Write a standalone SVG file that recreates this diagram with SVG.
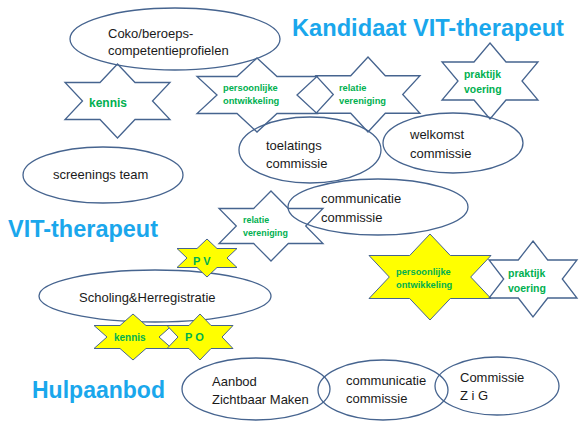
<svg xmlns="http://www.w3.org/2000/svg" width="579" height="421" viewBox="0 0 579 421">
<style>
.bg{fill:#ffffff}
.ell{fill:none;stroke:#46648F;stroke-width:1.3}
.star{fill:none;stroke:#46648F;stroke-width:1.3;stroke-linejoin:miter}
.ystar{fill:#FFFF00;stroke:#46648F;stroke-width:1;stroke-linejoin:miter}
.t{font-family:"Liberation Sans",Arial,sans-serif;font-size:13px;fill:#1a1a1a}
.g{font-family:"Liberation Sans",Arial,sans-serif;font-weight:bold;font-size:9.3px;fill:#00B050}
.h{font-family:"Liberation Sans",Arial,sans-serif;font-weight:bold;font-size:23px;fill:#1AA7EC}
</style>
<rect class="bg" x="0" y="0" width="579" height="421"/>

<g id="title-kandidaat"><text class="h" x="292" y="36" textLength="272" lengthAdjust="spacingAndGlyphs">Kandidaat VIT-therapeut</text></g>
<g id="title-vit"><text class="h" x="8" y="237" textLength="150" lengthAdjust="spacingAndGlyphs">VIT-therapeut</text></g>
<g id="title-hulpaanbod"><text class="h" x="32" y="398" textLength="133" lengthAdjust="spacingAndGlyphs">Hulpaanbod</text></g>

<g id="coko">
<ellipse class="ell" cx="175" cy="39" rx="105" ry="31"/>
<text class="t" x="108" y="38">Coko/beroeps-</text>
<text class="t" x="108" y="55">competentieprofielen</text>
</g>

<g id="star-kennis">
<polygon class="star" points="117.5,64 135,82.5 170,82.5 152.5,101 170,119.5 135,119.5 117.5,138 100,119.5 65,119.5 82.5,101 65,82.5 100,82.5"/>
<text class="g" x="89" y="107" style="font-size:12px">kennis</text>
</g>

<g id="screenings">
<ellipse class="ell" cx="103" cy="175" rx="80" ry="28"/>
<text class="t" x="53" y="179">screenings team</text>
</g>

<g id="star-persoonlijke-top">
<polygon class="star" points="257,58 277,76.5 317,76.5 297,95 317,113.5 277,113.5 257,132 237,113.5 197,113.5 217,95 197,76.5 237,76.5"/>
<text class="g" x="223" y="91">persoonlijke</text>
<text class="g" x="223" y="104">ontwikkeling</text>
</g>

<g id="star-relatie-top">
<polygon class="star" points="368,57 385.3,75.75 420,75.75 402.7,94.5 420,113.25 385.3,113.25 368,132 350.7,113.25 316,113.25 333.3,94.5 316,75.75 350.7,75.75"/>
<text class="g" x="339" y="91">relatie</text>
<text class="g" x="339" y="104">vereniging</text>
</g>

<g id="star-praktijk-top">
<polygon class="star" points="490,43 506,62 538,62 522,81 538,100 506,100 490,119 474,100 442,100 458,81 442,62 474,62"/>
<text class="g" x="464" y="78" style="font-size:10.4px">praktijk</text>
<text class="g" x="464" y="93" style="font-size:10.4px">voering</text>
</g>

<g id="toelatings">
<ellipse class="ell" cx="310" cy="150" rx="71" ry="33"/>
<text class="t" x="266" y="150">toelatings</text>
<text class="t" x="266" y="168">commissie</text>
</g>

<g id="welkomst">
<ellipse class="ell" cx="453" cy="143" rx="70" ry="30"/>
<text class="t" x="410" y="139">welkomst</text>
<text class="t" x="410" y="158">commissie</text>
</g>

<g id="communicatie-mid">
<ellipse class="ell" cx="378" cy="207" rx="90" ry="28"/>
<text class="t" x="321" y="203">communicatie</text>
<text class="t" x="321" y="222">commissie</text>
</g>

<g id="star-relatie-mid">
<polygon class="star" points="271,191 288.3,208.5 323,208.5 305.7,226 323,243.5 288.3,243.5 271,261 253.7,243.5 219,243.5 236.3,226 219,208.5 253.7,208.5"/>
<text class="g" x="243" y="223" style="font-size:8.9px">relatie</text>
<text class="g" x="243" y="236" style="font-size:8.9px">vereniging</text>
</g>

<g id="scholing">
<ellipse class="ell" cx="155" cy="296" rx="116" ry="26"/>
<text class="t" x="79" y="302">Scholing&amp;Herregistratie</text>
</g>

<g id="star-pv">
<polygon class="ystar" points="207,239 217,248.5 237,248.5 227,258 237,267.5 217,267.5 207,277 197,267.5 177,267.5 187,258 177,248.5 197,248.5"/>
<text class="g" x="193" y="265" style="font-size:11px">P V</text>
</g>

<g id="star-kennis-y">
<polygon class="ystar" points="133,314 146,325.5 172,325.5 159,337 172,348.5 146,348.5 133,360 120,348.5 94,348.5 107,337 94,325.5 120,325.5"/>
<text class="g" x="114" y="341" style="font-size:10px">kennis</text>
</g>

<g id="star-po">
<polygon class="ystar" points="200,314 211,325.5 233,325.5 222,337 233,348.5 211,348.5 200,360 189,348.5 167,348.5 178,337 167,325.5 189,325.5"/>
<text class="g" x="185" y="341" style="font-size:11px">P O</text>
</g>

<g id="star-persoonlijke-y">
<polygon class="ystar" points="430,234 450.3,255.5 491,255.5 470.7,277 491,298.5 450.3,298.5 430,320 409.7,298.5 369,298.5 389.3,277 369,255.5 409.7,255.5"/>
<text class="g" x="396" y="275">persoonlijke</text>
<text class="g" x="396" y="288">ontwikkeling</text>
</g>

<g id="star-praktijk-bottom">
<polygon class="star" points="533,241 547.7,260 577,260 562.3,279 577,298 547.7,298 533,317 518.3,298 489,298 503.7,279 489,260 518.3,260"/>
<text class="g" x="508" y="277" style="font-size:10.5px">praktijk</text>
<text class="g" x="508" y="292" style="font-size:10.5px">voering</text>
</g>

<g id="aanbod">
<ellipse class="ell" cx="256" cy="389" rx="74" ry="31"/>
<text class="t" x="212" y="386">Aanbod</text>
<text class="t" x="212" y="404">Zichtbaar Maken</text>
</g>

<g id="communicatie-bottom">
<ellipse class="ell" cx="383" cy="390" rx="65" ry="30"/>
<text class="t" x="346" y="385">communicatie</text>
<text class="t" x="346" y="403">commissie</text>
</g>

<g id="commissie-zig">
<ellipse class="ell" cx="497" cy="386" rx="62" ry="29"/>
<text class="t" x="460" y="382">Commissie</text>
<text class="t" x="460" y="400">Z i G</text>
</g>

<g id="connectors"/>
</svg>
